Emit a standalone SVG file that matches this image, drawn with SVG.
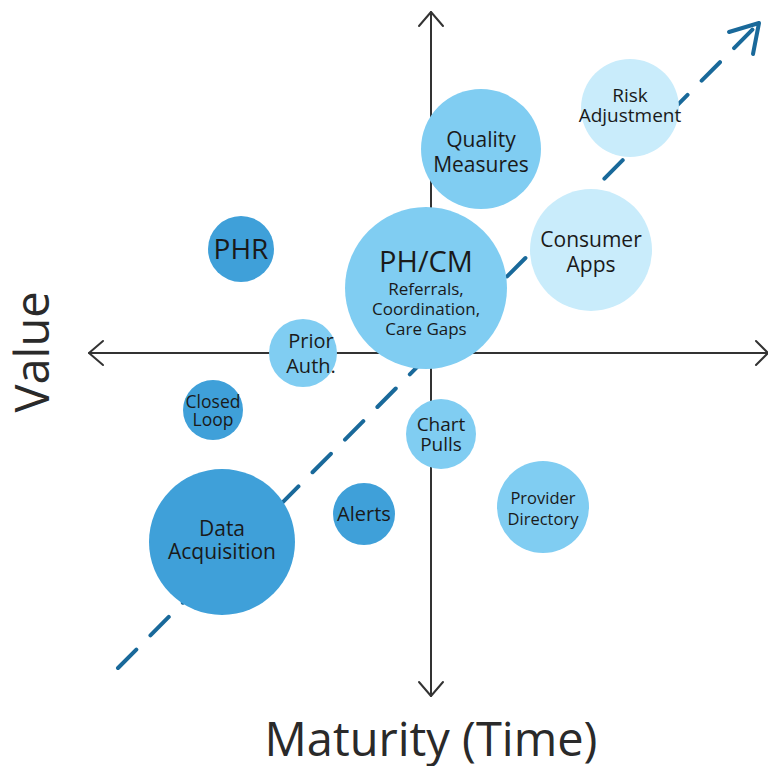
<svg xmlns="http://www.w3.org/2000/svg" width="768" height="766" viewBox="0 0 768 766">
<style>
.ax{stroke:#333;stroke-width:2;fill:none;stroke-linecap:round;stroke-linejoin:round}
.dk{fill:#3fa0d9}
.md{fill:#80cdf2}
.lt{fill:#c9ecfb}
text{font-family:"Open Sans","Noto Sans",sans-serif;fill:#1a1a1a;text-anchor:middle}
.big{font-size:47px;fill:#2a2a2a}
</style>
<rect width="768" height="766" fill="#fff"/>
<g id="connectors">
<line class="ax" x1="431" y1="12" x2="431" y2="696"/>
<polyline class="ax" points="419,26 431,12 443,26"/>
<polyline class="ax" points="419,682 431,696 443,682"/>
<line class="ax" x1="89" y1="353" x2="768" y2="353"/>
<polyline class="ax" points="103,341 89,353 103,365"/>
<polyline class="ax" points="756,341 768,353 756,365"/>
<line x1="118" y1="668" x2="755" y2="27" stroke="#19699a" stroke-width="4" stroke-dasharray="26 20" stroke-linecap="round"/>
<polyline points="729,32 759,23 753,54" stroke="#19699a" stroke-width="4" fill="none" stroke-linecap="round" stroke-linejoin="round"/>
</g>
<g id="quality"><circle class="md" cx="481" cy="149" r="60"/><text x="481" y="147" font-size="21">Quality</text><text x="481" y="172" font-size="21">Measures</text></g>
<g id="risk"><circle class="lt" cx="630" cy="108" r="49"/><text x="630" y="102" font-size="19">Risk</text><text x="630" y="122" font-size="19">Adjustment</text></g>
<g id="consumer"><circle class="lt" cx="591" cy="250" r="61"/><text x="591" y="247" font-size="21">Consumer</text><text x="591" y="272" font-size="21">Apps</text></g>
<g id="phr"><circle class="dk" cx="241" cy="249" r="33"/><text x="241" y="259" font-size="28">PHR</text></g>
<g id="phcm"><circle class="md" cx="426" cy="288" r="81"/><text x="426" y="272" font-size="29">PH/CM</text><text x="426" y="295" font-size="17">Referrals,</text><text x="426" y="315" font-size="17">Coordination,</text><text x="426" y="335" font-size="17">Care Gaps</text></g>
<g id="prior"><circle class="md" cx="303" cy="353" r="34"/><text x="311" y="348" font-size="20">Prior</text><text x="311" y="373" font-size="20">Auth.</text></g>
<g id="closed"><circle class="dk" cx="213" cy="410" r="30"/><text x="213" y="408" font-size="17.5">Closed</text><text x="213" y="426" font-size="17.5">Loop</text></g>
<g id="chart"><circle class="md" cx="441" cy="434" r="35"/><text x="441" y="431" font-size="19">Chart</text><text x="441" y="451" font-size="19">Pulls</text></g>
<g id="provider"><circle class="md" cx="543" cy="507" r="46"/><text x="543" y="504" font-size="16.5">Provider</text><text x="543" y="525" font-size="16.5">Directory</text></g>
<g id="alerts"><circle class="dk" cx="364" cy="514" r="31"/><text x="364" y="521" font-size="20">Alerts</text></g>
<g id="data"><circle class="dk" cx="222" cy="542" r="73"/><text x="222" y="536" font-size="21">Data</text><text x="222" y="559" font-size="21">Acquisition</text></g>
<text class="big" x="431" y="756">Maturity (Time)</text>
<text class="big" transform="translate(49,352) rotate(-90)">Value</text>
</svg>
